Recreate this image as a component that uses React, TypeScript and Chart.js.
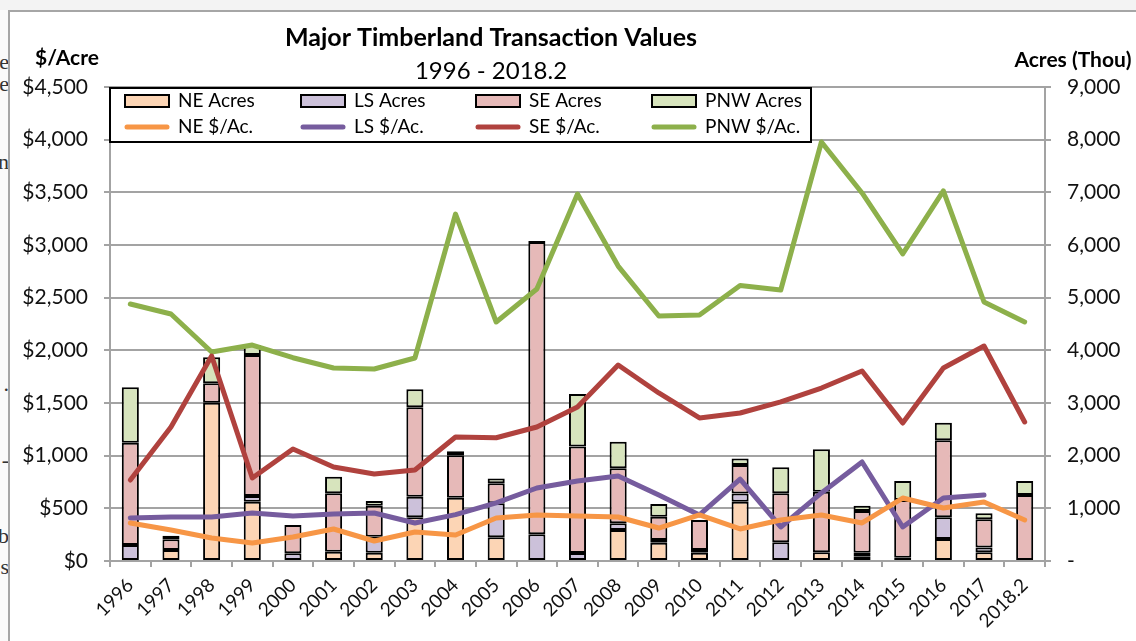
import React, { useEffect, useRef } from 'react';
import { Chart, registerables } from 'chart.js';

Chart.register(...registerables);

const years = ['1996', '1997', '1998', '1999', '2000', '2001', '2002', '2003', '2004', '2005', '2006', '2007', '2008', '2009', '2010', '2011', '2012', '2013', '2014', '2015', '2016', '2017', '2018.2'];

// Acres (thousands), stacked bars
const neAcres = [0, 209, 3006, 1126, 0, 177, 158, 830, 1202, 450, 0, 0, 589, 347, 158, 1126, 0, 165, 82, 63, 418, 165, 0];
const lsAcres = [304, 0, 0, 108, 146, 0, 304, 391, 0, 646, 506, 152, 127, 51, 51, 158, 355, 0, 76, 0, 411, 89, 0];
const seAcres = [1943, 203, 368, 2677, 537, 1108, 589, 1697, 807, 380, 5550, 2024, 1044, 443, 569, 537, 930, 1151, 791, 1097, 1462, 538, 1253];
const pnwAcres = [1052, 68, 494, 190, 0, 316, 89, 342, 76, 89, 20, 996, 506, 241, 0, 127, 494, 807, 101, 361, 335, 114, 266];

// $/Acre lines
const nePrice = [361, 294, 218, 171, 228, 304, 190, 275, 247, 408, 437, 427, 418, 313, 437, 304, 389, 437, 361, 598, 503, 560, 389];
const lsPrice = [408, 418, 418, 456, 427, 446, 456, 361, 440, 551, 693, 760, 807, 627, 437, 778, 323, 646, 940, 323, 598, 627, null];
const sePrice = [769, 1272, 1946, 788, 1063, 892, 826, 864, 1177, 1170, 1272, 1462, 1861, 1595, 1358, 1405, 1510, 1642, 1804, 1310, 1832, 2041, 1320];
const pnwPrice = [2440, 2345, 1984, 2050, 1930, 1832, 1823, 1927, 3294, 2269, 2582, 3484, 2800, 2326, 2335, 2615, 2573, 3978, 3494, 2915, 3513, 2459, 2269];

const titleText = 'Major Timberland Transaction Values';
const subtitleText = '1996 - 2018.2';
const leftAxisTitle = '$/Acre';
const rightAxisTitle = 'Acres (Thou)';

const FONT = 'Lato, "Open Sans", sans-serif';
const GRID = '#a3a3a3';

const overlayPlugin = {
  id: 'overlay',
  afterDraw(chart: any) {
    const ctx = chart.ctx;
    ctx.save();
    ctx.fillStyle = '#000';
    ctx.textBaseline = 'middle';
    ctx.textAlign = 'center';
    ctx.font = `bold 25px ${FONT}`;
    ctx.fillText(titleText, 491, 38);
    ctx.font = `24px ${FONT}`;
    ctx.fillText(subtitleText, 491, 71);
    ctx.font = `bold 21px ${FONT}`;
    ctx.fillText(leftAxisTitle, 67, 58);
    ctx.fillText(rightAxisTitle, 1073, 60);

    // legend
    const lx = 110, ly = 88, lw = 701, lh = 54;
    ctx.fillStyle = '#fff';
    ctx.fillRect(lx, ly, lw, lh);
    ctx.strokeStyle = '#000';
    ctx.lineWidth = 2;
    ctx.strokeRect(lx, ly, lw, lh);
    const cols = [125, 301, 476, 652];
    const ds = chart.data.datasets;
    ctx.font = `19px ${FONT}`;
    ctx.textAlign = 'left';
    for (let i = 0; i < 4; i++) {
      const bar = ds[4 + i];
      const line = ds[i];
      const x = cols[i];
      ctx.fillStyle = bar.backgroundColor;
      ctx.fillRect(x, 95, 44, 12);
      ctx.strokeStyle = '#000';
      ctx.lineWidth = 2;
      ctx.strokeRect(x, 95, 44, 12);
      ctx.fillStyle = '#000';
      ctx.fillText(bar.label, x + 53, 101);
      ctx.strokeStyle = line.borderColor;
      ctx.lineWidth = 5;
      ctx.lineCap = 'round';
      ctx.beginPath();
      ctx.moveTo(x + 2, 127);
      ctx.lineTo(x + 42, 127);
      ctx.stroke();
      ctx.fillStyle = '#000';
      ctx.fillText(line.label, x + 53, 127);
    }
    ctx.restore();
  },
};

function ChartView() {
  const ref = useRef<HTMLCanvasElement | null>(null);
  useEffect(() => {
    if (!ref.current) return;
    const lineDs = (label: string, data: (number | null)[], color: string) => ({
      type: 'line' as const,
      label,
      data,
      yAxisID: 'y',
      borderColor: color,
      backgroundColor: color,
      borderWidth: 5,
      pointRadius: 0,
      tension: 0,
      borderJoinStyle: 'round' as const,
      borderCapStyle: 'round' as const,
      spanGaps: false,
      order: 1,
    });
    const barDs = (label: string, data: number[], color: string) => ({
      type: 'bar' as const,
      label,
      data,
      yAxisID: 'y1',
      backgroundColor: color,
      borderColor: '#000',
      borderWidth: 2,
      borderSkipped: false,
      barPercentage: 0.42,
      categoryPercentage: 1,
      order: 2,
    });
    const chart = new Chart(ref.current, {
      data: {
        labels: years,
        datasets: [
          lineDs('NE $/Ac.', nePrice, '#F79646'),
          lineDs('LS $/Ac.', lsPrice, '#765C9E'),
          lineDs('SE $/Ac.', sePrice, '#B0423E'),
          lineDs('PNW $/Ac.', pnwPrice, '#8DB04B'),
          barDs('NE Acres', neAcres, '#FCD5B5'),
          barDs('LS Acres', lsAcres, '#CCC1DA'),
          barDs('SE Acres', seAcres, '#E6B9B8'),
          barDs('PNW Acres', pnwAcres, '#D7E4BD'),
        ] as any,
      },
      options: {
        responsive: false,
        animation: false,
        layout: { padding: { top: 87, left: 0, right: 0, bottom: 0 } },
        plugins: {
          legend: { display: false },
          title: { display: false },
          tooltip: { enabled: false },
        },
        scales: {
          x: {
            stacked: true,
            offset: true,
            grid: { offset: true, drawOnChartArea: false, color: GRID, lineWidth: 2, tickLength: 6 },
            border: { color: GRID, width: 2 },
            ticks: {
              minRotation: 45,
              maxRotation: 45,
              autoSkip: false,
              color: '#111',
              padding: 7,
              font: { family: FONT, size: 19 },
            },
            afterFit: (s: any) => { s.height = 80; },
          },
          y: {
            position: 'left',
            min: 0,
            max: 4500,
            grid: { color: GRID, lineWidth: 2, tickLength: 6 },
            border: { color: GRID, width: 2 },
            ticks: {
              stepSize: 500,
              color: '#111',
              padding: 16,
              font: { family: FONT, size: 21 },
              callback: (v: any) => '$' + Number(v).toLocaleString('en-US'),
            },
            afterFit: (s: any) => { s.width = 110; },
          },
          y1: {
            position: 'right',
            stacked: true,
            min: 0,
            max: 9000,
            grid: { drawOnChartArea: false, color: GRID, lineWidth: 2, tickLength: 6 },
            border: { color: GRID, width: 2 },
            ticks: {
              stepSize: 1000,
              color: '#111',
              padding: 16,
              font: { family: FONT, size: 21 },
              callback: (v: any) => (Number(v) === 0 ? '-' : Number(v).toLocaleString('en-US')),
            },
            afterFit: (s: any) => { s.width = 91; },
          },
        },
      } as any,
      plugins: [overlayPlugin],
    });
    return () => chart.destroy();
  }, []);
  return (
    <canvas
      ref={ref}
      width={1136}
      height={641}
      style={{ position: 'absolute', left: 0, top: 0, width: 1136, height: 641, display: 'block' }}
    />
  );
}

const fragments = [
  { t: 'e', y: 50 },
  { t: 'e', y: 72 },
  { t: 'n', y: 150 },
  { t: '.', y: 372 },
  { t: '-', y: 448 },
  { t: 'b', y: 524 },
  { t: 's', y: 555 },
];

export default function App() {
  return (
    <div style={{ position: 'fixed', left: 0, top: 0, width: 1136, height: 641, background: '#f3f3f3', overflow: 'hidden' }}>
      <div style={{ position: 'absolute', left: 0, top: 10, width: 9, height: 631, background: '#fafafa', overflow: 'hidden' }}>
        {fragments.map((f, i) => (
          <div key={i} style={{ position: 'absolute', right: 0, top: f.y - 10, fontFamily: '"Liberation Serif", serif', fontSize: 22, color: '#333', lineHeight: '24px' }}>{f.t}</div>
        ))}
      </div>
      <div style={{ position: 'absolute', left: 8, top: 10, width: 1200, height: 700, border: '2px solid #a6a6a6', background: '#fff' }} />
      <ChartView />
    </div>
  );
}
